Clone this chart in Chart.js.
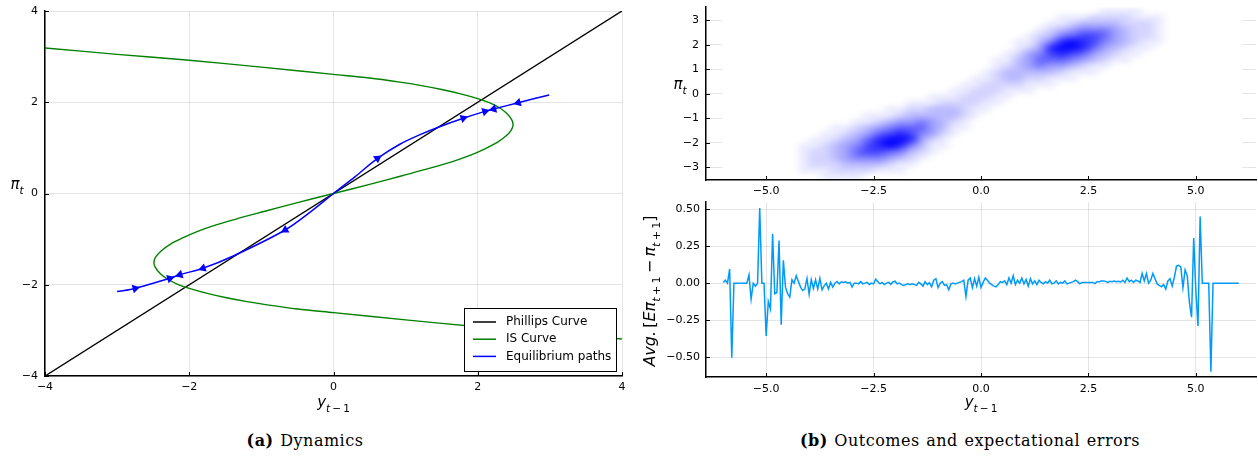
<!DOCTYPE html>
<html lang="en">
<head>
<meta charset="utf-8">
<title>Dynamics and outcomes</title>
<script src="https://cdn.jsdelivr.net/npm/chart.js@4.4.1/dist/chart.umd.min.js"></script>
<style>
  html, body { margin: 0; padding: 0; background: #fff; }
  body { position: relative; width: 1258px; height: 457px; overflow: hidden; }
  canvas { position: absolute; display: block; }
  #dyn { left: 0; top: 0; }
  #outcomes { left: 640px; top: 0; }
  #errors { left: 640px; top: 195px; }
  .caption { position: absolute; top: 431px; transform: translateX(-50%);
             font-family: "DejaVu Serif", "Liberation Serif", serif; font-size: 16px;
             letter-spacing: 0.5px; word-spacing: 1px;
             line-height: 20px; color: #000; white-space: nowrap; }
</style>
</head>
<body>
<canvas id="dyn" width="640" height="420"></canvas>
<canvas id="outcomes" width="618" height="200"></canvas>
<canvas id="errors" width="618" height="225"></canvas>
<div class="caption" style="left:305px"><b>(a)</b> Dynamics</div>
<div class="caption" style="left:970px"><b>(b)</b> Outcomes and expectational errors</div>
<script>
// ---------- panel (a): dynamics ----------
const phillipsX = [-4, 4];
const phillipsY = [-4, 4];

const isX = [-4.0, -3.0, -2.0, -1.0, 0.0, 0.5, 0.92, 1.2, 1.5, 1.75, 2.0, 2.16, 2.30, 2.40, 2.47, 2.49, 2.46, 2.39, 2.27, 2.1,
             1.9, 1.65, 1.35, 0.95, 0.5, 0.0,
             -0.5, -0.95, -1.35, -1.65, -1.9, -2.1, -2.27, -2.39, -2.46, -2.49, -2.47, -2.40, -2.30, -2.16, -2.0,
             -1.75, -1.5, -1.2, -0.92, -0.5, 0.0, 1.0, 2.0, 3.0, 4.0];
const isY = [3.19, 3.05, 2.92, 2.77, 2.61, 2.53, 2.44, 2.37, 2.28, 2.19, 2.08, 1.99, 1.88, 1.76, 1.62, 1.50, 1.38, 1.26, 1.12, 0.98,
             0.84, 0.70, 0.56, 0.39, 0.20, 0.0,
             -0.20, -0.39, -0.56, -0.70, -0.84, -0.98, -1.12, -1.26, -1.38, -1.50, -1.62, -1.76, -1.88, -1.99, -2.08,
             -2.19, -2.28, -2.37, -2.44, -2.53, -2.61, -2.77, -2.92, -3.05, -3.19];

const pathX = [-3.0, -2.75, -2.27, -2.13, -1.81, -1.39, -0.67, -0.3, 0.0, 0.3, 0.61, 0.92, 1.2, 1.48, 1.80, 2.10, 2.22, 2.56, 2.99];
const pathY = [-2.15, -2.08, -1.86, -1.78, -1.64, -1.37, -0.80, -0.38, 0.0, 0.37, 0.77, 1.08, 1.29, 1.47, 1.65, 1.80, 1.85, 1.99, 2.16];

// arrow heads sit on the path; +1 points towards larger y_{t-1}, -1 towards smaller
const arrowX = [-2.75, -2.27, -2.13, -1.81, -0.67, 0.61, 1.80, 2.10, 2.22, 2.56];
const arrowY = [-2.08, -1.86, -1.78, -1.64, -0.80, 0.77, 1.65, 1.80, 1.85, 1.99];
const arrowDir = [1, 1, -1, -1, -1, 1, 1, 1, -1, -1];

const dynTicks = [-4, -2, 0, 2, 4];

// ---------- panel (b), top: simulated (y_{t-1}, pi_t) outcomes ----------
// density on a 0.25 x 0.25 grid, rows from pi = 3.5 down to -3.5, columns from y = -5 to 5 (0 = empty, 9 = densest)
const densXRange = [-5, 5];
const densYRange = [-3.5, 3.5];
const densSampled = [-6.02, 6.08];
const densRows = [
  "0000000000000000000000000000000111100000",
  "0000000000000000000000000001112222111000",
  "0000000000000000000000000011233332221000",
  "0000000000000000000000000123455543221000",
  "0000000000000000000000001235677643221000",
  "0000000000000000000000011358987543211000",
  "0000000000000000000000012489986432110000",
  "0000000000000000000000124578764321100000",
  "0000000000000000000001134666543211000000",
  "0000000000000000000001234544321100000000",
  "0000000000000000000012333332111000000000",
  "0000000000000000000112332211100000000000",
  "0000000000000000001122221110000000000000",
  "0000000000000000011222111000000000000000",
  "0000000000000001112221100000000000000000",
  "0000000000000111222211000000000000000000",
  "0000000000011223332110000000000000000000",
  "0000000001112333332100000000000000000000",
  "0000000011234454321000000000000000000000",
  "0000001123456664311000000000000000000000",
  "0000011234678754210000000000000000000000",
  "0000112346899842100000000000000000000000",
  "0001123457898531100000000000000000000000",
  "0001223467765321000000000000000000000000",
  "0001223455543210000000000000000000000000",
  "0001222333321100000000000000000000000000",
  "0001112222111000000000000000000000000000",
  "0000011110000000000000000000000000000000"
];
const outTicksX = [-5, -2.5, 0, 2.5, 5];
const outTicksY = [-3, -2, -1, 0, 1, 2, 3];

// ---------- panel (b), bottom: average expectational error per y_{t-1} bin ----------
const errBinStart = -6, errBinWidth = 0.05;
const errY = [
  0.005, 0.02, 0, 0.095, -0.505, 0, 0, 0, 0, 0,
  0, 0, 0.056, -0.108, 0, -0.02, 0, 0.508, 0, 0,
  -0.357, -0.124, -0.176, 0.334, -0.072, -0.063, 0.289, -0.282, 0.154, -0.027,
  -0.072, -0.095, 0.023, 0, 0.05, 0.011, -0.027, -0.05, -0.04, 0.032,
  -0.075, 0.023, -0.036, 0.023, -0.04, 0.032, -0.045, -0.018, 0, -0.04,
  0.005, -0.027, 0, 0.011, -0.005, 0.009, 0.005, 0.009, 0, 0.005,
  -0.027, 0, 0, -0.005, 0.01, -0.005, 0, 0.005, -0.01, 0,
  -0.005, 0.027, 0.01, -0.005, 0.005, -0.01, 0, 0.005, -0.008, 0.008,
  0.013, -0.005, 0, -0.01, -0.015, -0.01, -0.005, -0.01, -0.005, -0.01,
  -0.015, 0.005, -0.005, -0.02, 0.01, -0.01, 0.003, -0.025, 0.02, 0.03,
  -0.03, 0, 0.01, -0.015, -0.01, -0.045, -0.005, 0, -0.005, 0,
  0.005, 0.01, 0.02, -0.09, 0.02, 0.035, -0.03, 0.03, -0.02, 0.04,
  -0.03, 0.005, 0.035, 0.02, 0, -0.01, -0.02, -0.025, -0.01, 0.01,
  0.005, 0.015, -0.01, 0.035, 0, 0.05, -0.01, 0.02, 0, 0.035,
  -0.005, 0.025, -0.02, 0.03, -0.005, 0.015, -0.01, 0.02, 0.005, -0.005,
  0.01, 0, 0.02, -0.005, 0, 0.015, -0.005, 0.005, 0, 0.015,
  -0.005, 0, 0.005, 0.01, 0.02, 0.01, -0.005, 0.005, 0.005, 0.005,
  0.005, 0.005, 0.005, -0.003, 0.01, 0.01, 0.015, 0.015, 0.012, 0.005,
  0.012, 0.01, 0.015, 0.01, 0.012, 0.008, 0.02, 0.005, 0.035, 0.01,
  0.02, 0.005, 0.02, 0.015, 0.005, 0.065, 0.015, 0.065, 0, 0.02,
  0.065, 0.03, -0.005, -0.015, -0.025, -0.01, -0.04, 0.015, 0.03, -0.02,
  0.04, 0.115, 0.12, 0.11, -0.03, 0.09, 0.05, -0.13, -0.23, 0.305,
  -0.05, -0.29, 0.45, 0, 0, 0, 0, -0.6, 0, 0,
  0, 0, 0, 0, 0, 0, 0, 0, 0, 0,
  0
];
const errTicksX = [-5, -2.5, 0, 2.5, 5];
const errTicksY = [-0.5, -0.25, 0, 0.25, 0.5];

// ---------- shared helpers ----------
Chart.defaults.font.family = '"DejaVu Sans", sans-serif';
Chart.defaults.font.size = 11;
Chart.defaults.color = '#000';
const GRID = 'rgba(0,0,0,0.1)';
const MATH_FONT = '"DejaVu Sans", sans-serif';

const minus = s => String(s).replace('-', '\u2212');
const pairs = (xs, ys) => xs.map((x, i) => ({ x, y: ys[i] }));

function linearAxis(o) {
  return {
    type: 'linear', position: o.position, min: o.min, max: o.max,
    afterBuildTicks: s => { s.ticks = o.ticks.map(value => ({ value })); },
    afterFit: s => {
      if (o.position === 'bottom') s.height = o.size; else s.width = o.size;
      s.paddingLeft = s.paddingRight = s.paddingTop = s.paddingBottom = 0;
    },
    ticks: { callback: v => minus(o.fmt(v)), padding: o.pad, autoSkip: false, maxRotation: 0,
             color: '#000', font: { size: 11 } },
    grid: { color: GRID, lineWidth: 1, drawTicks: false },
    border: { color: '#000', width: 1.5 }
  };
}

// short inward tick marks along both spines
const innerTicks = {
  id: 'innerTicks',
  afterDraw(chart) {
    const { ctx, chartArea: a, scales: { x, y } } = chart;
    ctx.save();
    ctx.strokeStyle = '#000';
    ctx.lineWidth = 1;
    ctx.beginPath();
    x.ticks.forEach(t => { const p = Math.round(x.getPixelForValue(t.value)) + 0.5; ctx.moveTo(p, a.bottom); ctx.lineTo(p, a.bottom - 4); });
    y.ticks.forEach(t => { const p = Math.round(y.getPixelForValue(t.value)) + 0.5; ctx.moveTo(a.left, p); ctx.lineTo(a.left + 4, p); });
    ctx.stroke();
    ctx.restore();
  }
};

// axis titles with italic symbols and subscripts
function drawMath(ctx, runs, size, cx, baseline, angle) {
  ctx.save();
  ctx.translate(cx, baseline);
  if (angle) ctx.rotate(angle);
  const parts = runs.map(([text, style, sub]) => {
    const s = sub ? size * 0.7 : size;
    const font = (style === 'i' ? 'italic ' : '') + s + 'px ' + MATH_FONT;
    ctx.font = font;
    return { text, font, w: ctx.measureText(text).width, dy: sub ? size * 0.3 : 0 };
  });
  const total = parts.reduce((s, p) => s + p.w, 0);
  let x = -total / 2;
  ctx.fillStyle = '#000';
  ctx.textAlign = 'left';
  ctx.textBaseline = 'alphabetic';
  parts.forEach(p => { ctx.font = p.font; ctx.fillText(p.text, x, p.dy); x += p.w; });
  ctx.restore();
}
function axisTitles(items) {
  return {
    id: 'axisTitles',
    afterDraw(chart) {
      items.forEach(it => {
        const [x, y] = it.at(chart.chartArea);
        drawMath(chart.ctx, it.runs, it.size, x, y, it.angle || 0);
      });
    }
  };
}
const Y_LAG = [['y', 'i'], ['t', 'i', 1], ['\u2009\u2212\u20091', 'r', 1]];
const PI_T = [['\u03c0', 'i'], ['t', 'i', 1]];

// ---------- panel (a) ----------
function arrowAngle(ctx) {
  const { chart, dataIndex: i } = ctx;
  const sx = chart.scales.x, sy = chart.scales.y;
  let j = 0, best = Infinity;
  pathX.forEach((px, k) => {
    const d = Math.hypot(px - arrowX[i], pathY[k] - arrowY[i]);
    if (d < best) { best = d; j = k; }
  });
  const a = Math.max(0, j - 1), b = Math.min(pathX.length - 1, j + 1);
  const dx = sx.getPixelForValue(pathX[b]) - sx.getPixelForValue(pathX[a]);
  const dy = sy.getPixelForValue(pathY[b]) - sy.getPixelForValue(pathY[a]);
  let deg = Math.atan2(dy, dx) * 180 / Math.PI;
  if (arrowDir[i] < 0) deg += 180;
  return deg + 90;
}

const boxLegend = {
  id: 'boxLegend',
  afterDraw(chart) {
    const { ctx, chartArea: a } = chart;
    const items = chart.data.datasets.filter(d => d.label);
    const w = 152, h = 63, rowH = 17.2;
    const x0 = Math.round(a.right - 6 - w), y0 = Math.round(a.bottom - 5.5 - h);
    ctx.save();
    ctx.fillStyle = '#fff';
    ctx.fillRect(x0, y0, w, h);
    ctx.strokeStyle = '#000';
    ctx.lineWidth = 1;
    ctx.strokeRect(x0 + 0.5, y0 + 0.5, w, h);
    ctx.font = '12px "DejaVu Sans"';
    ctx.textBaseline = 'middle';
    items.forEach((d, i) => {
      const yy = y0 + 14 + i * rowH;
      ctx.strokeStyle = d.borderColor;
      ctx.lineWidth = 1.5;
      ctx.beginPath(); ctx.moveTo(x0 + 9, yy); ctx.lineTo(x0 + 32, yy); ctx.stroke();
      ctx.fillStyle = '#000';
      ctx.fillText(d.label, x0 + 42, yy);
    });
    ctx.restore();
  }
};

new Chart(document.getElementById('dyn'), {
  type: 'scatter',
  data: {
    datasets: [
      { label: 'Phillips Curve', data: pairs(phillipsX, phillipsY), showLine: true, borderColor: '#000000',
        borderWidth: 1.4, pointRadius: 0, order: 3 },
      { label: 'IS Curve', data: pairs(isX, isY), showLine: true, borderColor: '#008000',
        borderWidth: 1.4, pointRadius: 0, tension: 0.3, order: 2 },
      { label: 'Equilibrium paths', data: pairs(pathX, pathY), showLine: true, borderColor: '#0000ff',
        borderWidth: 1.5, pointRadius: 0, tension: 0.3, order: 1 },
      { data: pairs(arrowX, arrowY), showLine: false, pointStyle: 'triangle', pointRadius: 5,
        pointBackgroundColor: '#0000ff', pointBorderColor: '#0000ff', pointBorderWidth: 0,
        pointRotation: arrowAngle, order: 0 }
    ]
  },
  options: {
    responsive: false, animation: false, events: [],
    layout: { padding: { left: 0, right: 18, top: 11, bottom: 0 } },
    plugins: { legend: { display: false }, tooltip: { enabled: false } },
    scales: {
      x: linearAxis({ position: 'bottom', min: -4, max: 4, ticks: dynTicks, fmt: v => v, pad: 5, size: 44 }),
      y: linearAxis({ position: 'left', min: -4, max: 4, ticks: dynTicks, fmt: v => v, pad: 7, size: 45 })
    }
  },
  plugins: [innerTicks, boxLegend, axisTitles([
    { runs: Y_LAG, size: 15, at: a => [(a.left + a.right) / 2, 407] },
    { runs: PI_T, size: 15, at: a => [17, 189] }
  ])]
});

// ---------- panel (b), top ----------
const densityLayer = {
  id: 'densityLayer',
  beforeDatasetsDraw(chart) {
    const { ctx, chartArea: a, scales: { x, y } } = chart;
    const rows = densRows.length, cols = densRows[0].length;
    ctx.save();
    ctx.beginPath();
    ctx.rect(a.left, a.top, a.right - a.left, a.bottom - a.top);
    ctx.clip();
    // the sampled band is painted white, hiding the grid beneath it
    const bx0 = x.getPixelForValue(densSampled[0]), bx1 = x.getPixelForValue(densSampled[1]);
    ctx.fillStyle = '#fff';
    ctx.fillRect(bx0, a.top, bx1 - bx0, a.bottom - a.top - 1);
    const off = document.createElement('canvas');
    off.width = cols; off.height = rows;
    const octx = off.getContext('2d');
    const img = octx.createImageData(cols, rows);
    for (let r = 0; r < rows; r++) {
      for (let c = 0; c < cols; c++) {
        const v = +densRows[r][c];
        const k = (r * cols + c) * 4;
        img.data[k] = 0; img.data[k + 1] = 0; img.data[k + 2] = 255;
        img.data[k + 3] = Math.round(Math.pow(v / 9, 1.15) * 245);
      }
    }
    octx.putImageData(img, 0, 0);
    const gx0 = x.getPixelForValue(densXRange[0]), gx1 = x.getPixelForValue(densXRange[1]);
    const gy0 = y.getPixelForValue(densYRange[1]), gy1 = y.getPixelForValue(densYRange[0]);
    ctx.imageSmoothingEnabled = true;
    ctx.imageSmoothingQuality = 'high';
    ctx.filter = 'blur(2px)';
    ctx.drawImage(off, gx0, gy0, gx1 - gx0, gy1 - gy0);
    ctx.restore();
  }
};

new Chart(document.getElementById('outcomes'), {
  type: 'scatter',
  data: { datasets: [] },
  options: {
    responsive: false, animation: false, events: [],
    layout: { padding: { left: 0, right: 2, top: 7, bottom: 0 } },
    plugins: { legend: { display: false }, tooltip: { enabled: false } },
    scales: {
      x: linearAxis({ position: 'bottom', min: -6.4, max: 6.4, ticks: outTicksX, fmt: v => v.toFixed(1), pad: 5, size: 20 }),
      y: linearAxis({ position: 'left', min: -3.52, max: 3.54, ticks: outTicksY, fmt: v => v, pad: 7, size: 66 })
    }
  },
  plugins: [densityLayer, innerTicks, axisTitles([
    { runs: PI_T, size: 15, at: a => [40, 89] }
  ])]
});

// ---------- panel (b), bottom ----------
const errX = errY.map((_, i) => +(errBinStart + i * errBinWidth).toFixed(2));

new Chart(document.getElementById('errors'), {
  type: 'scatter',
  data: {
    datasets: [
      { data: pairs(errX, errY), showLine: true, borderColor: '#009afa', borderWidth: 1.5, pointRadius: 0 }
    ]
  },
  options: {
    responsive: false, animation: false, events: [],
    layout: { padding: { left: 0, right: 2, top: 7, bottom: 0 } },
    plugins: { legend: { display: false }, tooltip: { enabled: false } },
    scales: {
      x: linearAxis({ position: 'bottom', min: -6.4, max: 6.4, ticks: errTicksX, fmt: v => v.toFixed(1), pad: 6, size: 43 }),
      y: linearAxis({ position: 'left', min: -0.635, max: 0.549, ticks: errTicksY, fmt: v => v.toFixed(2), pad: 6, size: 66 })
    }
  },
  plugins: [innerTicks, axisTitles([
    { runs: Y_LAG, size: 15, at: a => [(a.left + a.right) / 2, 212] },
    { runs: [['Avg.', 'i'], ['\u2009[', 'r'], ['E', 'i'], ['\u03c0', 'i'], ['t', 'i', 1], ['\u2009+\u20091', 'r', 1],
             ['\u2009\u2212\u2009', 'r'], ['\u03c0', 'i'], ['t', 'i', 1], ['\u2009+\u20091', 'r', 1], [']', 'r']],
      size: 16, angle: -Math.PI / 2, at: a => [15, 96] }
  ])]
});
</script>
</body>
</html>
